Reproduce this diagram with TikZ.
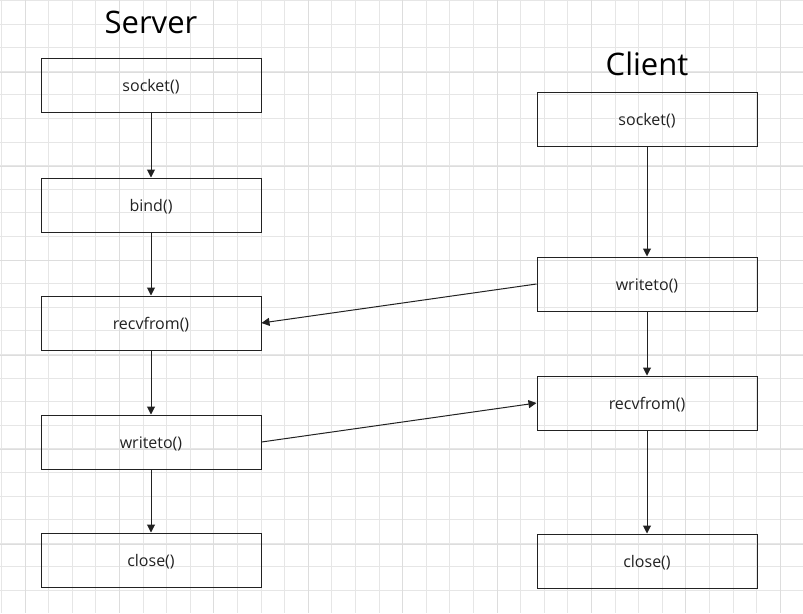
\documentclass[tikz,border=0pt]{standalone}
\usepackage{fontspec}
\setmainfont{Open Sans}
\usetikzlibrary{arrows.meta}
\definecolor{minorgrid}{HTML}{E6E6E6}
\definecolor{majorgrid}{HTML}{DDDDDD}
\definecolor{ink}{HTML}{222222}
\tikzset{
  stepbox/.style={draw=ink, line width=1pt, minimum width=220pt, minimum height=54pt, inner sep=0pt, text height=14pt, text depth=2pt, font=\fontsize{16}{19}\selectfont, text=ink},
  title/.style={font=\fontsize{31}{36}\selectfont, text=black, inner sep=0pt},
  flow/.style={draw=ink, line width=1pt, -{Triangle[length=8pt,width=8pt]}},
}
\begin{document}
\begin{tikzpicture}[x=1pt,y=-1pt]
\useasboundingbox (0,0) rectangle (803,613);
\fill[white] (0,0) rectangle (803,613);
% grid
\foreach \i in {0,...,34} {
  \draw[minorgrid, line width=1pt] ({1.4+23.6*\i},0) -- ({1.4+23.6*\i},613);
}
\foreach \i in {0,...,26} {
  \draw[minorgrid, line width=1pt] (0,{0.4+23.6*\i}) -- (803,{0.4+23.6*\i});
}
\foreach \i in {0,...,8} {
  \draw[majorgrid, line width=1pt] ({25+94.4*\i},0) -- ({25+94.4*\i},613);
}
\foreach \i in {0,...,6} {
  \draw[majorgrid, line width=1pt] (0,{-22.4+94.4*\i}) -- (803,{-22.4+94.4*\i});
}
% titles
\node[title] (stitle) at (151,22) {Server};
\node[title] (ctitle) at (647,64) {Client};
% server
\node[stepbox] (s1) at (151,85) {socket()};
\node[stepbox] (s2) at (151,205) {bind()};
\node[stepbox] (s3) at (151,323) {recvfrom()};
\node[stepbox] (s4) at (151,442) {writeto()};
\node[stepbox] (s5) at (151,560) {close()};
% client
\node[stepbox] (c1) at (647,119) {socket()};
\node[stepbox] (c2) at (647,284) {writeto()};
\node[stepbox] (c3) at (647,403) {recvfrom()};
\node[stepbox] (c4) at (647,561) {close()};
% arrows
\draw[flow] (s1) -- (s2);
\draw[flow] (s2) -- (s3);
\draw[flow] (s3) -- (s4);
\draw[flow] (s4) -- (s5);
\draw[flow] (c1) -- (c2);
\draw[flow] (c2) -- (c3);
\draw[flow] (c3) -- (c4);
\draw[flow] (c2.west) -- (s3.east);
\draw[flow] (s4.east) -- (c3.west);
\end{tikzpicture}
\end{document}
